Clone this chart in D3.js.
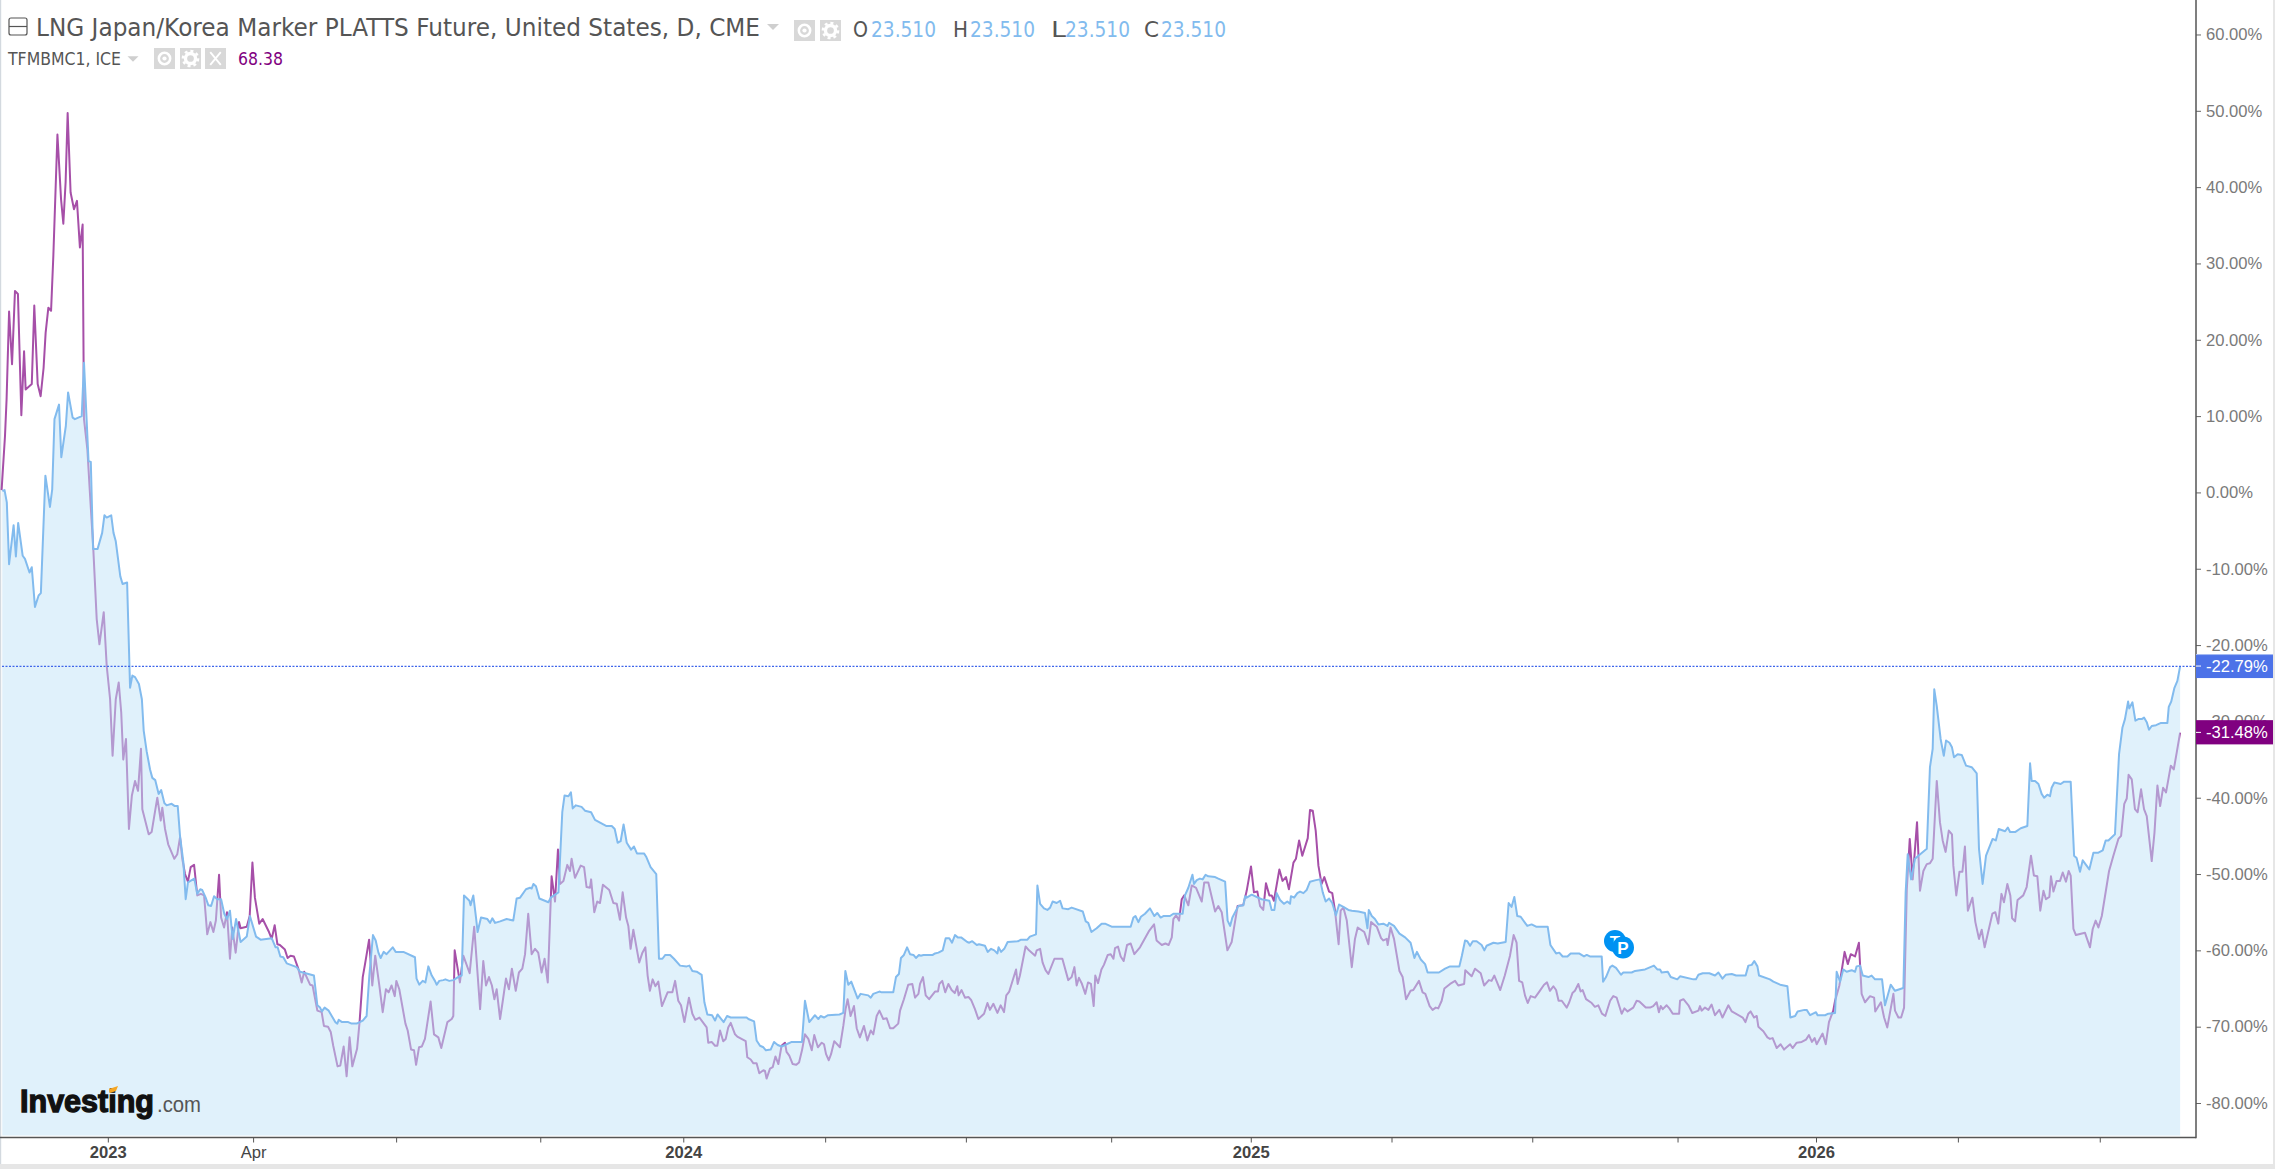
<!DOCTYPE html>
<html>
<head>
<meta charset="utf-8">
<script src="https://cdn.jsdelivr.net/npm/d3@7"></script>
<style>
html,body{margin:0;padding:0;background:#fff;overflow:hidden}
svg{display:block}
</style>
</head>
<body>
<svg id="chart" width="2275" height="1169"></svg>
<script>
// [trading session, % change since start]
const lngPoints = [[1,0.2],[2,0.3],[3,-1.3],[4,-9.4],[6,-4.3],[7,-8.4],[8,-4],[10,-8.3],[11,-8.7],[13,-10.5],[14,-9.8],[15.4,-15],[17,-13.5],[18,-13.2],[20,2.2],[22,-1.9],[23,0.4],[24,9.6],[26,11.5],[27,4.6],[29,8.7],[30,13.1],[32,9.8],[33,9.6],[36,10],[37,17],[39,4.1],[40,4],[41,-7.4],[43,-7.4],[45,-5.3],[46,-3],[47,-3.3],[49,-3],[50,-5.3],[51,-6.4],[53,-11],[54,-12],[56,-11.8],
[56.2,-14],[57.3,-25.6],[58.3,-24],[59.5,-24.2],[61.2,-25.1],[62.5,-27.1],[63.3,-31.2],[64.6,-33.9],[66.1,-36.3],[67.1,-37.4],[68.4,-37.7],[69.9,-39.5],[71,-39],[72.4,-40.7],[73.4,-41],[75.6,-40.8],[77,-41.1],[78.3,-41.1],[79.3,-45],[80.8,-48.5],[81.8,-53.3],[82.8,-51.1],[85.6,-50.6],[86.9,-52.6],[88.2,-52],[89.1,-52.1],[90.6,-53.1],[91.8,-54.1],[93,-54.2],[94.3,-52.9],[95.7,-53.3],[97.4,-53.3],[98.8,-55.2],[100,-55.9],[101.3,-54.8],[102.5,-58.5],[104,-55.9],[106,-58.9],[108.7,-58.2],[110.1,-55.5],[112.8,-58.2],[114.8,-58.6],[119.7,-58.4],[121.4,-59.6],[122.3,-59.6],[123.5,-60.8],[124.8,-60.9],[126.3,-61.7],[130.7,-62.2],[132.2,-62.8],[138.3,-63.3],[139.8,-67.2],[141,-67.5],[141.8,-68],[143,-67.5],[144.8,-67.9],[147.7,-69.4],[148.6,-69.6],[149.2,-69.1],[150.7,-69.4],[153.4,-69.4],[154.9,-69.6],[157.1,-69.6],[159.8,-69.2],[161.5,-68.6],[162.7,-63.3],[164.3,-58],[165.5,-58.7],[166.7,-60.3],[167.7,-61],[169,-60.2],[170.3,-60.5],[173,-59.6],[174.3,-60.2],[177.7,-60.2],[182.8,-60.9],[183.5,-63.7],[184.7,-64.5],[186.2,-64],[187.4,-64.2],[188.7,-62.1],[190.2,-63.3],[191.6,-64],[192.4,-64.5],[193.5,-64],[195.3,-63.9],[196.2,-63.8],[197.9,-64],[199.7,-63.9],[202.3,-63.4],[203.4,-63.3],[204.4,-52.8],[206.8,-53.5],[207.3,-54.1],[208.5,-52.8],[209.7,-55.7],[210.4,-57.6],[211.9,-55.7],[214.7,-55.9],[215.9,-56.4],[216.9,-55.8],[218.1,-56.4],[220.3,-56.2],
[223.2,-55.9],[226.1,-56.1],[227.6,-53.2],[229.1,-53.1],[231.7,-52],[233.5,-51.8],[234.2,-51.9],[235,-51.3],[236.1,-51.6],[237.6,-53.2],[241.6,-53.7],[242.6,-53.1],[246,-52.4],[247.7,-41.9],[248.7,-39.7],[250.4,-39.8],[251.5,-39.3],[252.3,-41.4],[253.7,-41],[256.2,-41.2],[257.7,-41.7],[260.4,-41.9],[262.1,-42.9],[267,-43.7],[269.5,-43.7],[270.8,-44.1],[272.1,-45.9],[273.4,-45.7],[274.7,-43.5],[276.1,-45.9],[278,-46.8],[279.3,-46.4],[280.6,-47.3],[283.7,-47.3],[284.6,-47.7],[286.6,-49.1],[289.1,-50],[290.3,-61.1],[291.8,-61.1],[293.1,-60.6],[295.2,-60.6],[296.9,-61.1],[299.6,-62],[302.5,-62.1],[303.7,-62],[305,-62.7],[306.9,-62.8],[309.1,-63.2],[310.3,-66.8],[311.6,-68.4],[313.7,-68.5],[315,-69.2],[316.1,-68.4],[318.8,-69.4],[320.3,-68.6],[321.9,-68.8],[328.9,-68.8],[329.7,-69],[332.2,-69.3],[333.3,-71.8],[334.8,-72.5],[336.3,-72.7],[337.4,-73.1],[339.5,-73],[341,-72],[342.6,-72.4],[344.3,-72.6],[346.5,-72.3],[348.8,-72],[353.3,-72],[354.6,-66.6],[356.5,-69.4],[359,-68.5],[360.5,-69],[361.5,-68.6],[363,-68.8],[364.8,-68.5],[369.8,-68.4],[371.5,-68.2],[372.4,-62.7],[373.7,-64.5],[375,-64.1],[377.8,-66.3],[379.1,-65.7],[382.5,-65.9],[383.6,-66.2],[384.7,-65.7],[387.4,-65.4],[388.4,-65.5],[393.5,-65.5],
[394.7,-63.5],[396,-63.1],[396.9,-61],[398.2,-60.6],[399.6,-59.6],[400.9,-60.5],[402.4,-60.6],[403.5,-61],[404.8,-60.6],[405.6,-60.7],[406.8,-60.6],[410.9,-60.6],[411.9,-60.4],[413.4,-60.3],[415.3,-60],[416.6,-58.4],[418.2,-58.4],[419.4,-59],[420.7,-58],[421.9,-58.3],[423.4,-58.3],[426.1,-58.9],[427,-59],[428.3,-58.8],[430.3,-59.3],[431.3,-59.2],[433.9,-59.4],[435.1,-60.2],[436.6,-59.8],[438,-60],[439.4,-60.4],[439.9,-59.6],[441,-60.2],[442.4,-59.8],[443.9,-58.9],[448.6,-58.8],[449.8,-58.6],[452.6,-58.6],[453.7,-58.2],[456.4,-57.9],[457,-51.5],[458.2,-53.9],[459.9,-54.5],[461.4,-54.7],[462.6,-54.4],[463.7,-53.6],[465.5,-53.8],[467,-53.5],[468.1,-54.5],[470.6,-54.6],[472.1,-54.4],[477,-54.9],[478.3,-56.2],[479.4,-56.4],[480.8,-57.6],[483.1,-57.1],[485.3,-56.5],[486.8,-56.5],[489.7,-56.9],[498.1,-56.9],[499.3,-55.7],[500.2,-55.5],[501.5,-56.3],[502.6,-55.6],[504.4,-55.2],[506.6,-54.5],[508.5,-55.5],[509.8,-55.1],[511.3,-55.7],[512.5,-55.5],[515.4,-55.5],[516.9,-55.2],[521,-55.2],[522,-52.8],[523.5,-51.8],[525.3,-50.1],[526,-51.3],[527.2,-50.8],[528.6,-50.6],[529.8,-50.7],[531.1,-50.1],[532.3,-50.3],[535.3,-50.4],[536.7,-50.6],[539.7,-51],[540.8,-56.1],[541.9,-56.8],[542.9,-55.7],[545.5,-54.2],[547.7,-54.1],[548.5,-52.9],[549.2,-53.1],[551.4,-52.7],[555.8,-53.3],[559.2,-53.5],[560.2,-54.7],[561.4,-54.7],[562.4,-52.5],[563.9,-53.4],[565.6,-53.9],[567.1,-53.6],[568.3,-53.9],[568.7,-52.9],[570.1,-53.1],[571.5,-52.5],[572.7,-52.3],
[574.2,-52.5],[575.6,-52.1],[577.1,-51],[579.7,-50.8],[581.5,-50.7],[582.7,-52.4],[584,-53.6],[585.5,-53.2],[586.9,-53.8],[588.5,-55.4],[589.9,-54],[591.8,-54.3],[594,-54.7],[595.5,-54.8],[598.4,-54.9],[601.3,-55.1],[602.4,-57.1],[603,-54.7],[604.3,-55.5],[605.7,-55.9],[607.2,-56.6],[609.4,-56.5],[611.2,-56.8],[611.9,-56.4],[614.1,-56.8],[616.5,-57.8],[619,-58.3],[621.4,-59],[623.1,-61],[624.2,-60.2],[625.9,-61.2],[627.8,-61.8],[628.9,-62.9],[633.9,-62.9],[636.6,-62.4],[638.8,-62.1],[642.9,-62.1],[644,-60.7],[645.4,-58.7],[646.4,-58.8],[647.6,-59.4],[648.8,-58.8],[650.5,-58.8],[652.7,-59.3],[653.9,-60],[654.9,-59.4],[657.9,-59],[659.8,-59.1],[663.3,-58.9],[664.6,-53.8],[665.9,-54.3],[667.1,-53],[668.4,-55.5],[669.9,-55.6],[672.8,-56.8],[674.7,-56.6],[676.7,-56.9],[681.8,-56.9],[683,-59.3],[685.5,-60.4],[686.9,-60.3],[688.4,-60.8],[690.5,-60.8],[691.9,-60.4],[695.6,-60.4],[697.8,-60.8],[699,-60.6],[700.4,-60.8],[705.6,-60.8],[706.2,-64.1],[707.5,-63.5],[709.3,-62.2],[710.3,-62],[711.9,-62.3],[714.1,-63.2],[715.1,-62.9],[718.8,-62.9],[720.3,-62.7],[722.5,-62.6],[724.7,-62.5],[728.6,-62],[730.1,-62.5],[731.3,-62.5],[732,-62.9],[734.7,-62.8],[736,-63.5],[738.9,-63.8],
[740.1,-63.4],[746,-63.8],[747.1,-63.8],[748.2,-63.2],[750.1,-63],[753,-63],[755.5,-63.3],[757,-62.9],[758.8,-63.7],[760.2,-63.2],[762.9,-63.1],[764.8,-63.3],[769,-63.3],[770.2,-62],[771.7,-61.9],[772.8,-61.4],[774.2,-62.1],[774.9,-63.3],[779.7,-63.8],[781.2,-64.1],[784.2,-64.5],[787.4,-64.7],[788.7,-68.8],[790.8,-68.6],[791.9,-68],[794.9,-67.8],[795.9,-67.8],[797.4,-68.5],[800,-68.1],[800.7,-68.5],[804,-68.5],[805.4,-68.3],[808.4,-68.2],[809.1,-62.8],[810.6,-64.1],[812,-62.5],[813.5,-62.8],[815.7,-62.6],[817.2,-62.8],[817.9,-62.1],[819.4,-62],[820.6,-63.3],[823.1,-63.5],[824.5,-63.3],[826,-63.8],[829.1,-63.8],[830.4,-67.2],[832.9,-64.5],[834.8,-65.3],[837.8,-65],[838.5,-64.9],[839.5,-52.4],[840.4,-47.4],[841.9,-50.7],[843.6,-48],[845.1,-47.6],[848.8,-46.7],[850.2,-36],[851.4,-33.6],[852.1,-25.8],[853.2,-28],[854.9,-32.3],[856.3,-34.5],[857.3,-32.5],[858.8,-32.8],[859.9,-33.4],[860.8,-34.7],[862.4,-34.3],[864.2,-34.4],[866.1,-35.8],[868.6,-36],[870.8,-36.8],[871.8,-46.7],[873.4,-51.3],[874.9,-47.6],[877.8,-45.4],[879.2,-45.6],[880.5,-44.1],[883.3,-44.4],[884.5,-43.9],[885.5,-44.5],[887.7,-44.5],[890.2,-44],[893.1,-43.7],[894.3,-35.5],[895,-37.8],[896.5,-37.8],[898,-38.2],[899.4,-39.5],[900.5,-40],[901.9,-39.6],[903.1,-39.8],[903.8,-38.7],[905,-38],[907.8,-38.2],[909.3,-37.9],[912.2,-37.9],[913.7,-47.6],[914.8,-47.9],[916.3,-49.7],[917.5,-48.2],[920.4,-49.4],[922.2,-47.2],[924.4,-47.2],[926.3,-46.9],[927.6,-45.6],[928.8,-45.6],[931.7,-44.8],[933.5,-34.3],[935,-30.8],[936.1,-29.7],[937.5,-27.4],[938,-28.3],[939.4,-27.5],[940.7,-29.9],[942,-29.7],[943.5,-29.7],[944.5,-29.5],[945.7,-30.1],[946.7,-31.1],[947.9,-30.6],[949.8,-30.5],[952,-30.2],[953.8,-30.2],[954.8,-30.2],[955.4,-28.1],[956.5,-27.4],[957.9,-25.6],[959.2,-24.7],[960.4,-22.79]];

const ttfPoints = [[0.7,0.3],[2.2,7.4],[2.9,12.2],[4,23.7],[5.3,16.8],[6.6,26.4],[7.9,26],[9.4,10.1],[10.6,18.5],[11.3,13.5],[14,14.2],[15.1,24.5],[16.6,14.2],[17.9,12.6],[19.2,16.3],[20.1,20.9],[21.3,24.2],[22.5,23.8],[23.5,31],[25.3,46.9],[26.9,38.4],[27.9,35.2],[28.9,40.6],[29.8,49.7],[31.1,39.3],[32.6,37.1],[33.9,38.2],[35.2,32.1],[36.4,35.1],[37,9.6],[38.5,5.6],[39.6,0],[41.1,-7.4],[42.6,-16.6],[43.8,-19.9],[45.7,-15.7],
[47,-22.7],[48.5,-27.1],[49.6,-34.5],[51,-27.1],[52.3,-24.9],[53.4,-28.8],[54.3,-35],[55.5,-32.3],[56.8,-44.1],[58.1,-39.7],[59.5,-37.8],[60.8,-39.1],[62.1,-33.6],[62.7,-41.5],[65.5,-44.8],[66.8,-44.5],[69.3,-40],[70.8,-43],[71.5,-41.3],[72.7,-44.1],[74.1,-46.1],[76.8,-48],[78.1,-47.4],[79.3,-45.2],[80.3,-48],[81.5,-50],[82.8,-51],[84,-49.1],[85.5,-48.8],[86.9,-52.8],[88.5,-52.6],[89.9,-52.8],[91.3,-57.9],[92.7,-56.3],[94,-57.6],[95.1,-56.1],[96.5,-50.1],[97.4,-55.7],[98.7,-57],[100,-55],[101.3,-61.1],[102.3,-57],[103.8,-60.3],[105.3,-56.3],[106,-57.1],[108.7,-56.9],[110,-55.5],[111.2,-48.5],[112.3,-53.1],[114.2,-56.5],[115.7,-55.9],[118.5,-57.6],[119.7,-58.5],[121,-56.7],[122.2,-59.2],[123.3,-59.3],[125.5,-59.9],[126.7,-61],[128,-60.7],[129.5,-60.8],[131.4,-62.4],[132.9,-64.2],[134,-62.8],[136.6,-64.5],[137.7,-64.6],[139.8,-67.9],[141.7,-68.1],[142.7,-69.9],[144.5,-70],[145.7,-70.7],[146.8,-72.5],[148.7,-75.2],[149.9,-75.1],[151.4,-72.6],[152.7,-76.5],[154,-71.4],[155.2,-75.2],[157.3,-72.9],[158.4,-69.4],[159.8,-63.5],[160.8,-61.8],[162.6,-58.6],[164,-64.6],[165.3,-60.7],[167.1,-64.6],[168.6,-68.1],[170,-65.1],[171.2,-65.5],[172.5,-64.6],[173.9,-66],[174.6,-64],[175.9,-65.1],[178.6,-69.6],[179.6,-70.5],[181.1,-73],[182.4,-73.1],[183.3,-75],[184.6,-72.7],[185.8,-72.6],[187.2,-71.6],[189.7,-66.7],[191.2,-71],[193.1,-71.4],[194.4,-72.8],[197.1,-69.4],[199,-69],[199.7,-68.6],[200.3,-60],[202.6,-64.2],[204.1,-60.7],[206.9,-63],[208.9,-56.9],[211.5,-67.7],
[212.9,-61.4],[214.1,-64.6],[215.4,-63.5],[216.7,-64.6],[217.8,-66.4],[218.8,-65.1],[220.3,-69],[221.4,-66.8],[222.9,-63.7],[224.2,-65.1],[225.5,-62.4],[227.2,-65.3],[228.6,-62.9],[230.1,-62.4],[231.3,-60.5],[232.7,-55.2],[234.2,-60.5],[235.7,-59.8],[237.1,-60.3],[238.6,-62.9],[239.9,-61.1],[241.3,-64.2],[243,-50.3],[244.5,-53.6],[245.8,-46.8],[246.7,-51.3],[248.2,-50.9],[249.9,-48.8],[251.1,-49.6],[251.8,-48],[253.3,-50.5],[255.8,-48.9],[257.3,-49.1],[258.4,-51.7],[259.9,-51.8],[260.4,-50.7],[261.8,-55],[263.1,-53.6],[264.3,-53.8],[265.6,-51.4],[268.4,-52.1],[270.2,-53.8],[271.7,-53.9],[273.1,-56],[274.3,-52.4],[275.8,-55.7],[276.8,-56.8],[277.8,-59.8],[279,-57.3],[281.6,-61.6],[283,-60.3],[284.3,-59.6],[285.3,-63.3],[286.3,-65.3],[287.5,-63.8],[288.7,-64.7],[290,-64.1],[291.6,-67.3],[294.1,-65.5],[296.2,-65.5],[297.4,-64],[298.8,-66.6],[300,-67.2],[301.5,-69.4],[303.5,-66.2],[305,-68.3],[306.3,-69.1],[308.1,-68.8],[309.1,-69.2],[311.3,-70.1],[312,-72.1],[313.5,-72],[315,-72.5],[316,-72.5],[317.2,-70.5],[318.6,-71.9],[319.7,-71.6],[320.8,-70.1],[321.9,-69.5],[323.8,-71],[324.8,-71.3],[328.5,-71.9],[329.2,-74],[330.7,-74.3],[331.9,-74.8],[333.3,-74.8],[334.5,-76.1],[336.3,-75.7],[337,-75.8],[337.7,-76.8],[339.2,-75.5],[340.4,-75.3],[341.6,-73.9],[342.9,-74.9],[344.3,-72.5],[345.8,-72.1],[346.5,-73.3],[347.7,-73.8],[349.2,-74.9],[350.7,-75],[352,-74.7],[353.3,-73.1],[354.6,-71],[356.1,-71.6],[357.6,-73.1],[358.7,-71.1],[360.3,-72.7],[362,-72.1],[363,-72.3],[363.9,-73.6],[365.1,-74.4],[366.1,-73.6],[367.5,-71.9],[370,-72.7],[371.5,-69.9],[372.5,-67.7],[373.4,-66.4],[374.7,-68.6],[376.2,-67.3],[377.4,-70.2],[378.8,-71.4],[380.6,-69.9],[382.1,-71.8],[383.6,-70.5],[384.7,-71],[386.2,-68.6],[387.4,-67.9],[389.1,-69],[390.6,-68.9],[392.1,-70.2],[393.5,-70.2],
[395.7,-69.6],[396.5,-67.9],[398.2,-66.4],[400.1,-64.5],[401.9,-64.4],[403.1,-66.2],[404.6,-65.7],[405.3,-64.4],[406.6,-63.5],[407.8,-65.9],[409.3,-66.4],[411.9,-65.4],[413.2,-65.4],[413.8,-64.4],[415.1,-64],[416.4,-65.5],[417.8,-64.4],[419.2,-65.2],[420.6,-65.6],[421.7,-64.7],[422.3,-65.9],[423.6,-65.2],[425.1,-66.2],[426.6,-66.1],[427.8,-66.5],[429.5,-67.7],[431,-69],[433.5,-68.3],[435,-66.9],[436.1,-67.8],[437.6,-67],[439.4,-68.2],[440.8,-67.2],[442.3,-68.1],[443.3,-65.9],[444.6,-65.4],[447.6,-62.5],[448.3,-64.4],[449.3,-63.3],[451.8,-59.5],[453.3,-60],[456,-60.7],[456.7,-60],[458.2,-59.8],[459.3,-61.6],[460.6,-62.6],[461.8,-63.1],[464.5,-61.1],[468,-61.1],[470.6,-63.9],[472.1,-63.5],[473.3,-62.2],[474.3,-64.6],[475.3,-63.6],[476.5,-64.3],[478.1,-65.7],[479.3,-64.2],[480.6,-64.4],[481.8,-67.3],[482.5,-63.3],[483.7,-64.3],[485.2,-62.5],[486.3,-61.9],[488,-60.6],[489.3,-60.5],[490.5,-61.1],[491.2,-59.7],[492.5,-59.5],[493.7,-60.8],[495,-61.4],[496.5,-59.3],[498.1,-59.1],[499.7,-60.5],[502.2,-59.6],[506.3,-57.4],[508.4,-56.6],[509.5,-58.7],[511.8,-59.3],[513.4,-59.1],[514.8,-59.3],[516.2,-58.3],[516.9,-55.9],[518.1,-55.4],[519.4,-56.1],[520.6,-53.3],[521.7,-52.8],[523.5,-54.1],[525,-51.5],[526.9,-51.8],[529.4,-53.6],[530.5,-51.1],[532.3,-51.1],[535.3,-54.9],[536.7,-54.2],[538.2,-55],[540.7,-60],[542.6,-58.9],[545.2,-54.2],[547.7,-54.1],[549.2,-52.2],[551.1,-49],[552.4,-52.4],[553.9,-52.3],[555.1,-54.2],[556.5,-54.7],[557.7,-51.2],[559.2,-52.8],[560.2,-52.8],[561.2,-53.5],[563.6,-49.4],
[565,-50.9],[566.5,-50.4],[567.8,-52],[569.8,-48.5],[570.9,-48],[572.3,-45.6],[573.7,-47.6],[576.1,-45.3],[577.1,-41.6],[578.3,-41.7],[579.6,-44.3],[580.8,-48.9],[582.2,-51.3],[583.4,-50.4],[585.5,-52.3],[586.9,-52.5],[588.1,-54.8],[589.7,-59.2],[590.6,-54.8],[591.8,-54.4],[593.3,-56.1],[595.5,-62.2],[596.9,-58.5],[598.1,-57],[601,-57.6],[602.8,-59.2],[604,-56.3],[606.5,-56.9],[608.4,-58.4],[609.4,-58.7],[610.9,-58.5],[611.3,-59.3],[612.6,-57],[614.1,-58.5],[616.5,-62.7],[617.9,-63.5],[619.4,-66.4],[621.4,-65.3],[622.6,-65.2],[625.1,-64],[626.7,-65.5],[627.9,-65.7],[629.8,-67.3],[631.1,-67.8],[632.5,-67.5],[633.6,-67.6],[635.1,-66.6],[636.3,-65],[638.8,-64.4],[641,-64],[642.4,-64.6],[645,-64.4],[645.5,-62.6],[648.3,-63.4],[649.8,-62.4],[652.3,-63],[653.8,-64.6],[655.9,-63.9],[657.1,-64],[658.3,-63.3],[660.9,-65.2],[662.9,-63.3],[665.2,-60.7],[666.8,-58],[668.1,-59],[669.2,-64],[670.6,-64.2],[671.8,-65.9],[673,-66.9],[674.3,-66],[676.2,-66.2],[678.1,-65.4],[680.2,-64.5],[681.5,-64.2],[682.8,-65.3],[684.3,-64.7],[685.5,-65.2],[686.6,-66.6],[688,-66.6],[690.2,-67.5],[691.3,-66.8],[692.7,-65.6],[693.8,-65.3],[695.3,-64.4],[696.3,-65.4],[697.2,-65.2],[698.7,-66.4],[701.2,-66.9],[702.6,-67.4],[704.1,-67.2],[705.7,-68.3],[707.2,-68.6],[709.3,-66.6],[710.7,-66],[712.2,-66.2],[714.4,-68.3],[715.6,-67.6],[717,-68],[719.5,-67.5],[721,-66.6],[722.2,-66.7],[725,-67.5],[726.9,-67.5],[728.3,-67.3],[729.8,-66.8],[730.8,-68.1],[731.6,-67.3],[732.5,-67.7],[734.2,-67.2],[735.4,-67.6],[736.9,-68.3],[739.7,-68.3],
[740.1,-66.6],[741.6,-66.4],[743.8,-67.2],[745.5,-68.2],[748.2,-67.9],[748.9,-67.3],[749.6,-67.9],[751.1,-67.5],[752.6,-67.8],[754,-67.1],[755.5,-68.5],[757.4,-67.8],[758.8,-68.8],[761.4,-67.2],[762.9,-68],[767.7,-68.8],[768.9,-69.4],[770.2,-68.3],[771.2,-68],[772.7,-68.8],[773.9,-68.6],[774.6,-70],[776.8,-70.6],[778.6,-71.4],[779.7,-71.6],[780.9,-71.5],[782.7,-72.8],[784.4,-72.3],[785.9,-73],[788.6,-72.3],[789.7,-72.8],[791.5,-72.1],[793.7,-72],[795.6,-71.7],[796.9,-71.1],[798.2,-72],[799.4,-71.5],[800.3,-72.3],[802.9,-70.9],[804.3,-72.3],[805.7,-69.4],[807.6,-67.9],[808.4,-66.6],[810.3,-64.6],[812.6,-60.2],[814,-61.8],[815.3,-60.5],[817.2,-60.8],[818.9,-59],[820.1,-65.7],[821.6,-66.8],[823.8,-66],[825.6,-66.2],[826.1,-68],[828.6,-66.8],[830,-68.8],[831.4,-70.1],[834.1,-65.7],[834.8,-67.9],[836.3,-68.8],[837.5,-68.8],[838.8,-67.5],[840,-52],[841.3,-45.4],[842.6,-50.7],[844.5,-43.2],[845.8,-52.2],[847.3,-49.6],[848.8,-48.7],[850.2,-48.6],[851.4,-48],[853.2,-37.8],[854.6,-43.2],[855.8,-45.6],[857.1,-47.1],[858.5,-44.3],[859.9,-44.8],[860.5,-48.9],[861.8,-52.8],[863.2,-49.7],[864.5,-49.7],[865.6,-46.4],[866.9,-54.8],[868.9,-53.1],[870.2,-56.3],[871.8,-58.5],[873,-57.3],[874.3,-59.6],[877.7,-55.2],[879,-55],[880.3,-56.5],[881.7,-52.6],[882.8,-53.7],[884.3,-51.3],[885.6,-52.8],[886.4,-55.8],[887.7,-56.2],[888.8,-53.4],[891.3,-52.8],[892.8,-51.7],[894.7,-47.6],[896,-50.2],[897.5,-50.3],[898.8,-54.8],[900.2,-52.2],[901.3,-53.3],[902.8,-53],[903.5,-50.3],[904.6,-52.3],[906,-50.9],[907.5,-50.9],[908.7,-49.8],[910.1,-51],[911.3,-49.6],[912.2,-50.2],[913.4,-57.2],[914.5,-58],[918.5,-57.7],[920.7,-59.6],[921.9,-57.2],[923.2,-56.1],[924.4,-57],[925.9,-55.5],[929.1,-49.6],[931,-47.6],[933.2,-45.4],[934.4,-45],[935.8,-40.8],[936.9,-40.1],[937.7,-37],[939.1,-37.6],[940.5,-41.5],[941.7,-41.9],[943.2,-38.9],[944.5,-41.5],[945.7,-42.4],[947.9,-48.3],[949.1,-44.6],[950.4,-38.4],[951.6,-41.1],[952.9,-38.7],[954.2,-39.3],[956.3,-35.8],[957.6,-36.3],[958.9,-34.1],[960.4,-31.48]];

const yTickValues = [60,50,40,30,20,10,0,-10,-20,-30,-40,-50,-60,-70,-80];
const xTickSessions = [47.5,111.5,174.5,238,301,363.5,425.5,489.5,551,613,675,739,800,862.5,925];
const xTickLabels = ["2023","Apr","","","2024","","","","2025","","","","2026","",""];
const boldLabels = ["2023","2024","2025","2026"];
const lastLng = -22.79, lastTtf = -31.48;
const titleText = "LNG Japan/Korea Marker PLATTS Future, United States, D, CME";
const subText = "TFMBMC1, ICE";
const subValue = "68.38";
const ohlcLabels = ["O","H","L","C"];
const ohlcValues = ["23.510","23.510","23.510","23.510"];

const svg = d3.select("#chart");
const sans = "'Liberation Sans', Arial, sans-serif";
const tah = "'DejaVu Sans', Verdana, sans-serif";
const axisX = 2196, axisY = 1137.5, fillBottom = 1135.5;

const x = d3.scaleLinear().domain([0, 967.4]).range([0, axisX]);
const y = d3.scaleLinear().domain([60, -80]).range([34.48, 1103]);

const pctFmt = v => v.toFixed(2) + "%";

// page frame
svg.append("rect").attr("x",0).attr("y",0).attr("width",2275).attr("height",1169).attr("fill","#fff");
svg.append("rect").attr("x",0).attr("y",1164).attr("width",2275).attr("height",5).attr("fill","#e6e6e6");
svg.append("rect").attr("x",2273).attr("y",0).attr("width",2).attr("height",1169).attr("fill","#e6e6e6");
svg.append("rect").attr("x",0).attr("y",0).attr("width",1.2).attr("height",1164).attr("fill","#d3d9df");

// TTF below the translucent area, as in the original
svg.append("path").datum(ttfPoints)
  .attr("fill","none").attr("stroke","#a64fa8").attr("stroke-width",2).attr("stroke-linejoin","round")
  .attr("d", d3.line().x(d=>x(d[0])).y(d=>y(d[1])));

svg.append("path").datum(lngPoints)
  .attr("fill","rgba(193,227,247,0.5)")
  .attr("d", d3.area().x(d=>x(d[0])).y0(fillBottom).y1(d=>y(d[1])));

svg.append("path").datum(lngPoints)
  .attr("fill","none").attr("stroke","#82bbee").attr("stroke-width",2).attr("stroke-linejoin","round")
  .attr("d", d3.line().x(d=>x(d[0])).y(d=>y(d[1])));

// current price line
svg.append("line").attr("x1",2).attr("x2",axisX).attr("y1",y(lastLng)).attr("y2",y(lastLng))
  .attr("stroke","#3f66ea").attr("stroke-width",1.1).attr("stroke-dasharray","2,1.5");

// y axis
const yAxis = svg.append("g").attr("transform",`translate(${axisX},0)`)
  .call(d3.axisRight(y).tickValues(yTickValues).tickSize(5).tickPadding(5).tickFormat(pctFmt));
yAxis.select(".domain").remove();
yAxis.selectAll("line").attr("stroke","#666");
yAxis.selectAll("text").attr("fill","#7a7a7a").style("font-family",sans).style("font-size","16.6px");
svg.append("line").attr("x1",axisX).attr("x2",axisX).attr("y1",0).attr("y2",axisY+0.7).attr("stroke","#555").attr("stroke-width",1.5);

// x axis
const xAxis = svg.append("g").attr("transform",`translate(0,${axisY})`)
  .call(d3.axisBottom(x).tickValues(xTickSessions).tickSize(5).tickPadding(4).tickFormat((d,i)=>xTickLabels[i]));
xAxis.select(".domain").attr("stroke","#555").attr("stroke-width",1.5).attr("d",`M0,0H${axisX}`);
xAxis.selectAll("line").attr("stroke","#555");
xAxis.selectAll("text").attr("fill","#444").style("font-family",sans).style("font-size","16.6px")
  .style("font-weight",(d,i)=>boldLabels.includes(xTickLabels[i])?"700":"400");

// last value tags
function tag(val,fill,edge){
  const cy=y(val)-0.3;
  svg.append("rect").attr("x",axisX).attr("y",cy-12).attr("width",77).attr("height",24).attr("fill",fill);
  svg.append("rect").attr("x",axisX).attr("y",cy-12).attr("width",77).attr("height",1).attr("fill",edge);
  svg.append("line").attr("x1",axisX).attr("x2",axisX+5).attr("y1",cy).attr("y2",cy).attr("stroke","#fff");
  svg.append("text").attr("x",axisX+10).attr("y",cy+6).attr("fill","#fff")
    .style("font-family",sans).style("font-size","16.6px").text(pctFmt(val));
}
tag(lastLng,"#4c72e8","#a9bdf3");
tag(lastTtf,"#800080","#800080");

// header
const boxIcon = (bx,by,s,kind)=>{
  const g=svg.append("g").attr("transform",`translate(${bx},${by})`);
  g.append("rect").attr("width",s).attr("height",s).attr("fill","#d8d8d8");
  const c=s/2;
  if(kind==="eye"){
    g.append("circle").attr("cx",c).attr("cy",c).attr("r",s*0.27).attr("fill","none").attr("stroke","#fff").attr("stroke-width",s*0.12);
    g.append("circle").attr("cx",c).attr("cy",c).attr("r",s*0.1).attr("fill","#fff");
  } else if(kind==="gear"){
    g.append("circle").attr("cx",c).attr("cy",c).attr("r",s*0.24).attr("fill","none").attr("stroke","#fff").attr("stroke-width",s*0.16);
    g.append("circle").attr("cx",c).attr("cy",c).attr("r",s*0.36).attr("fill","none").attr("stroke","#fff").attr("stroke-width",s*0.12).attr("stroke-dasharray",`${s*0.14},${s*0.14}`);
  } else {
    g.append("path").attr("d",`M${s*.25},${s*.2}L${s*.75},${s*.8}M${s*.75},${s*.2}L${s*.25},${s*.8}`).attr("stroke","#fff").attr("stroke-width",s*0.09);
  }
};
const caret=(cx,cy,w)=>svg.append("path").attr("d",`M${cx-w/2},${cy-w/4}H${cx+w/2}L${cx},${cy+w/4}Z`).attr("fill","#cfcfcf");

svg.append("rect").attr("x",9).attr("y",18).attr("width",18).attr("height",17).attr("rx",2).attr("fill","none").attr("stroke","#555").attr("stroke-width",1.2);
svg.append("line").attr("x1",9).attr("x2",27).attr("y1",26.5).attr("y2",26.5).attr("stroke","#555").attr("stroke-width",1.2);

svg.append("text").attr("x",36).attr("y",36).attr("fill","#555").style("font-family",tah).style("font-size","24px")
  .attr("textLength",724).attr("lengthAdjust","spacingAndGlyphs").text(titleText);
caret(773,27,12);
boxIcon(794,20,21,"eye"); boxIcon(820,20,21,"gear");

const ohlcX=[853,953,1051,1144], ohlcVX=[871,970,1065,1161];
ohlcLabels.forEach((l,i)=>{
  svg.append("text").attr("x",ohlcX[i]).attr("y",37).attr("fill","#555").style("font-family",tah).style("font-size","21px")
    .attr("textLength",15).attr("lengthAdjust","spacingAndGlyphs").text(l);
  svg.append("text").attr("x",ohlcVX[i]).attr("y",37).attr("fill","#82bbee").style("font-family",tah).style("font-size","21px")
    .attr("textLength",65).attr("lengthAdjust","spacingAndGlyphs").text(ohlcValues[i]);
});

svg.append("text").attr("x",8).attr("y",65).attr("fill","#555").style("font-family",tah).style("font-size","17px")
  .attr("textLength",113).attr("lengthAdjust","spacingAndGlyphs").text(subText);
caret(133,59,11);
boxIcon(154,48,21,"eye"); boxIcon(180,48,21,"gear"); boxIcon(205,48,21,"x");
svg.append("text").attr("x",238).attr("y",65).attr("fill","#800080").style("font-family",tah).style("font-size","17px")
  .attr("textLength",45).attr("lengthAdjust","spacingAndGlyphs").text(subValue);

// Investing.com mark
svg.append("text").attr("x",20).attr("y",1112).attr("fill","#111").attr("stroke","#111").attr("stroke-width",1.3)
  .style("font-family",sans).style("font-size","31px").style("font-weight","700")
  .attr("textLength",134).attr("lengthAdjust","spacingAndGlyphs").text("Investing");
svg.append("text").attr("x",157).attr("y",1112).attr("fill","#555")
  .style("font-family",sans).style("font-size","22px")
  .attr("textLength",44).attr("lengthAdjust","spacingAndGlyphs").text(".com");
svg.append("path").attr("d","M109,1089L118,1086L116,1091L110,1093Z").attr("fill","#f5a623");

// event markers
const eventPin=(cx,cy,l)=>{
  svg.append("circle").attr("cx",cx).attr("cy",cy).attr("r",11).attr("fill","#0092f2");
  svg.append("text").attr("x",cx).attr("y",cy+6.5).attr("text-anchor","middle").attr("fill","#fff")
    .style("font-family",sans).style("font-size","17px").style("font-weight","700").text(l);
};
eventPin(1615,941,"T");
eventPin(1623,947.5,"P");
</script>
</body>
</html>
